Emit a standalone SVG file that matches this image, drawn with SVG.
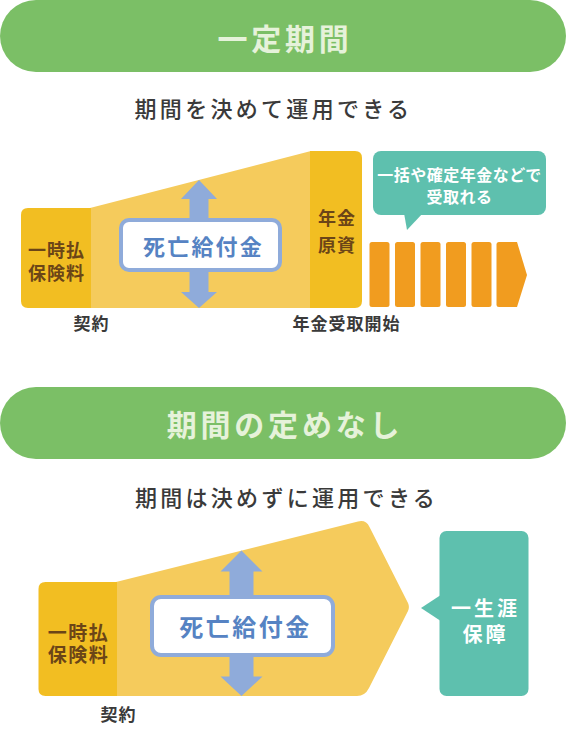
<svg xmlns="http://www.w3.org/2000/svg" width="566" height="730" viewBox="0 0 566 730">
<style>
text{font-family:"Noto Sans CJK JP","Noto Sans CJK SC",sans-serif;dominant-baseline:central;text-anchor:middle}
.banner{fill:#7BBF66}
.bt{fill:#E6F2DA;font-size:30px;font-weight:bold;letter-spacing:3.8px}
.sub{fill:#3A3A3A;font-size:22px;font-weight:500;letter-spacing:3.3px}
.dy{fill:#F2BE22}
.ly{fill:#F5CB5C}
.brown{fill:#6B4517;font-weight:bold}
.arr{fill:#8FABDA}
.benefit{fill:#fff;stroke:#8FABDA;stroke-width:4}
.bt2{fill:#5683C3;font-weight:bold}
.teal{fill:#5EC0AE}
.wt{fill:#fff;font-weight:bold}
.or{fill:#F19C1F}
.lbl{fill:#3A3A3A;font-size:17px;font-weight:bold;letter-spacing:1px}
</style>

<g id="banner1">
<rect class="banner" x="0" y="0" width="566" height="72" rx="36"/>
<text class="bt" x="285" y="37">一定期間</text>
</g>
<g id="subtitle1"><text class="sub" x="273.5" y="107">期間を決めて運用できる</text></g>

<g id="fixed-chart">
<polygon class="ly" points="90,208 311,151 311,308 90,308"/>
<g id="premium1">
<path class="dy" d="M91,208 H28 Q21,208 21,215 V301 Q21,308 28,308 H91 Z"/>
<text class="brown" font-size="18" letter-spacing="1"><tspan x="56.5" y="249">一時払</tspan><tspan x="56.5" y="271.5">保険料</tspan></text>
</g>
<g id="pension-fund">
<path class="dy" d="M310,151 H355 Q362,151 362,158 V301 Q362,308 355,308 H310 Z"/>
<text class="brown" font-size="18" letter-spacing="1"><tspan x="337" y="216.5">年金</tspan><tspan x="337" y="243.5">原資</tspan></text>
</g>
<g id="death-benefit1">
<polygon class="arr" points="199,180 217,199 208.5,199 208.5,292 217,292 199,308 181,292 189.5,292 189.5,199 181,199"/>
<rect class="benefit" x="121" y="220" width="159" height="50" rx="8"/>
<text class="bt2" x="203.5" y="245" font-size="22" letter-spacing="2.2">死亡給付金</text>
</g>
<g id="payout-bubble">
<rect class="teal" x="373" y="151" width="173" height="64" rx="8"/>
<polygon class="teal" points="404,213 407,230 423,213"/>
<text class="wt" font-size="16" letter-spacing="0.5"><tspan x="459.5" y="173.5">一括や確定年金などで</tspan><tspan x="459.5" y="195.5">受取れる</tspan></text>
</g>
<g id="payout-bars">
<rect class="or" x="369.5" y="242" width="20" height="65" rx="2.5"/>
<rect class="or" x="395" y="242" width="20" height="65" rx="2.5"/>
<rect class="or" x="420.5" y="242" width="20" height="65" rx="2.5"/>
<rect class="or" x="446" y="242" width="20" height="65" rx="2.5"/>
<rect class="or" x="471.5" y="242" width="20" height="65" rx="2.5"/>
<path class="or" d="M499,242 H517 L527,275 L517,307 H499 Q496.5,307 496.5,304.5 V244.5 Q496.5,242 499,242 Z"/>
</g>
<text class="lbl" x="91.5" y="322.5">契約</text>
<text class="lbl" x="346.5" y="322.5">年金受取開始</text>
</g>

<g id="banner2">
<rect class="banner" x="0" y="387" width="566" height="72" rx="36"/>
<text class="bt" x="285" y="423">期間の定めなし</text>
</g>
<g id="subtitle2"><text class="sub" x="286.5" y="496">期間は決めずに運用できる</text></g>

<g id="lifetime-chart">
<path class="ly" d="M116,582 L358,521.5 Q366,519.5 369.5,527 L408,603 Q409.8,607 408,611 L369,688 Q365,696 357,696 H116 Z"/>
<g id="premium2">
<path class="dy" d="M117,582 H45.5 Q38.5,582 38.5,589 V689 Q38.5,696 45.5,696 H117 Z"/>
<text class="brown" font-size="19" letter-spacing="1.5"><tspan x="78.5" y="631">一時払</tspan><tspan x="78.5" y="653">保険料</tspan></text>
</g>
<g id="death-benefit2">
<polygon class="arr" points="241.5,550.5 262.5,571.5 253.5,571.5 253.5,676.5 262.5,676.5 241.5,696 220.5,676.5 229.5,676.5 229.5,571.5 220.5,571.5"/>
<rect class="benefit" x="152" y="597" width="181" height="58" rx="9"/>
<text class="bt2" x="245.5" y="625.5" font-size="24" letter-spacing="2.5">死亡給付金</text>
</g>
<g id="lifetime-box">
<rect class="teal" x="439.5" y="531" width="89" height="165" rx="7"/>
<polygon class="teal" points="440,595.5 421,608 440,620.5"/>
<text class="wt" font-size="20" letter-spacing="3"><tspan x="485.5" y="607">一生涯</tspan><tspan x="485.5" y="633">保障</tspan></text>
</g>
<text class="lbl" x="118.5" y="713">契約</text>
</g>
</svg>
